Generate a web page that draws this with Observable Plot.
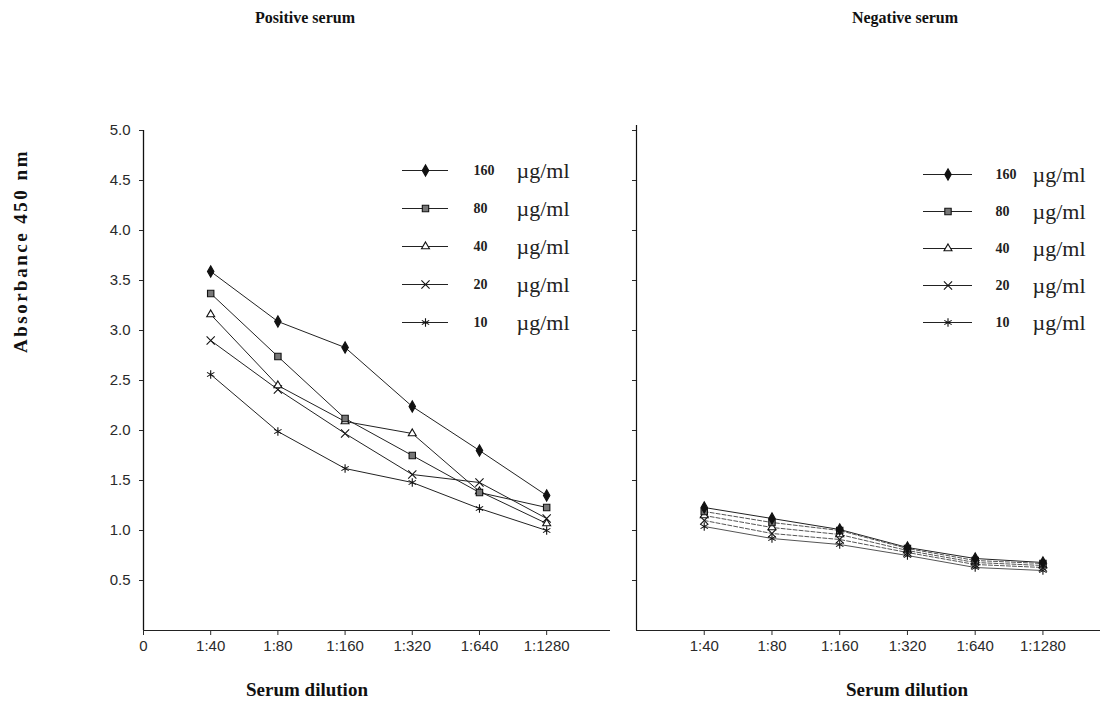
<!DOCTYPE html>
<html>
<head>
<meta charset="utf-8">
<script src="https://cdn.jsdelivr.net/npm/d3@7"></script>
<script src="https://cdn.jsdelivr.net/npm/@observablehq/plot@0.6"></script>
<style>
  html, body { margin: 0; padding: 0; background: #fff; }
  #chart { position: relative; width: 1109px; height: 709px; overflow: hidden; background: #fff; }
  .abs { position: absolute; }
  .lbl { position: absolute; font-family: "Liberation Serif", "Times New Roman", serif; font-weight: bold; color: #111; white-space: nowrap; transform: translate(-50%, -50%); }
</style>
</head>
<body>
<div id="chart"></div>
<script>
// ---- data ----
const dilutions = ["1:40", "1:80", "1:160", "1:320", "1:640", "1:1280"];
const concentrations = ["160", "80", "40", "20", "10"];
const unitLabel = "µg/ml";
const yTicks = [0.5, 1.0, 1.5, 2.0, 2.5, 3.0, 3.5, 4.0, 4.5, 5.0];

const positive160 = [3.59, 3.09, 2.83, 2.24, 1.80, 1.35];
const positive80  = [3.37, 2.74, 2.12, 1.75, 1.38, 1.23];
const positive40  = [3.16, 2.45, 2.09, 1.97, 1.39, 1.07];
const positive20  = [2.90, 2.41, 1.97, 1.56, 1.48, 1.12];
const positive10  = [2.56, 1.99, 1.62, 1.48, 1.22, 1.00];

const negative160 = [1.23, 1.12, 1.01, 0.83, 0.72, 0.68];
const negative80  = [1.19, 1.08, 1.00, 0.82, 0.70, 0.67];
const negative40  = [1.15, 1.03, 0.96, 0.80, 0.68, 0.65];
const negative20  = [1.10, 0.97, 0.91, 0.78, 0.66, 0.63];
const negative10  = [1.04, 0.92, 0.86, 0.75, 0.63, 0.60];

const titles = ["Positive serum", "Negative serum"];
const xTitle = "Serum dilution";
const yTitle = "Absorbance 450 nm";

// ---- styles ----
const symbolOf = {"160": "diamond", "80": "square", "40": "triangle2", "20": "times", "10": "asterisk"};
const fillOf = {"160": "#111", "80": "#777", "40": "white", "20": "none", "10": "none"};
const rOf = {"160": 3.4, "80": 3.6, "40": 3.8, "20": 3.8, "10": 4};

function rowsOf(arrays) {
  return concentrations.flatMap((c, k) => arrays[k].map((v, i) => ({conc: c, i: i + 1, label: dilutions[i], v})));
}
const posRows = rowsOf([positive160, positive80, positive40, positive20, positive10]);
const negRows = rowsOf([negative160, negative80, negative40, negative20, negative10]);

const chart = document.getElementById("chart");
const axisStyle = {fontFamily: "'Liberation Sans', Arial, sans-serif", fontSize: "15px", color: "#2a2a2a", background: "transparent", overflow: "visible"};

function seriesMarks(rows, negative) {
  const marks = [];
  for (const c of concentrations) {
    const d = rows.filter(r => r.conc === c);
    const dashed = negative && c !== "160" && c !== "10";
    marks.push(Plot.line(d, {x: "i", y: "v", stroke: negative && c !== "160" ? "#555" : "#222", strokeWidth: 1, strokeDasharray: dashed ? "4,2" : null}));
  }
  for (const c of [...concentrations].reverse()) {
    const d = rows.filter(r => r.conc === c);
    marks.push(Plot.dot(d, {x: "i", y: "v", symbol: symbolOf[c], r: rOf[c], fill: fillOf[c], stroke: "#111", strokeWidth: 1.1}));
  }
  return marks;
}

// left panel
const left = Plot.plot({
  width: 620, height: 709,
  marginLeft: 143, marginRight: 10, marginTop: 130, marginBottom: 79,
  style: axisStyle,
  x: {type: "linear", domain: [0, 6.95], axis: null},
  y: {domain: [0, 5], axis: null},
  marks: [
    Plot.ruleY([0], {stroke: "#222"}),
    Plot.ruleX([0], {stroke: "#111", strokeWidth: 1.3}),
    Plot.axisX({ticks: [0, 1, 2, 3, 4, 5, 6], tickFormat: i => i === 0 ? "0" : dilutions[i - 1], tickSize: 5, tickPadding: 5, label: null}),
    Plot.axisY({ticks: yTicks, tickFormat: d => d.toFixed(1), tickSize: 4, tickPadding: 9, label: null}),
    ...seriesMarks(posRows, false)
  ]
});
left.classList.add("abs");
left.style.left = "0px"; left.style.top = "0px";
chart.appendChild(left);

// right panel
const right = Plot.plot({
  width: 489, height: 709,
  marginLeft: 16, marginRight: 9, marginTop: 125, marginBottom: 79,
  style: axisStyle,
  x: {type: "linear", domain: [0, 6.85], axis: null},
  y: {domain: [0, 5.05], axis: null},
  marks: [
    Plot.ruleY([0], {stroke: "#222"}),
    Plot.ruleX([0], {stroke: "#111", strokeWidth: 1.2}),
    Plot.axisX({ticks: [1, 2, 3, 4, 5, 6], tickFormat: i => dilutions[i - 1], tickSize: 5, tickPadding: 5, label: null}),
    Plot.axisY({ticks: yTicks, tickFormat: () => "", tickSize: 4, label: null}),
    ...seriesMarks(negRows, true)
  ]
});
right.classList.add("abs");
right.style.left = "620px"; right.style.top = "0px";
chart.appendChild(right);

// legends
function legend(left, top, width, lineRange, numX, unitX, rowRange) {
  const lg = Plot.plot({
    width, height: 200, margin: 0,
    style: {background: "transparent", overflow: "visible"},
    x: {domain: [0, 1], range: lineRange, axis: null},
    y: {type: "point", domain: concentrations, range: rowRange, padding: 0, axis: null},
    marks: [
      Plot.ruleY(concentrations, {y: d => d, x1: 0, x2: 1, stroke: "#222", strokeWidth: 1}),
      ...concentrations.map(c => Plot.dot([c], {x: 0.5, y: d => d, symbol: symbolOf[c], r: rOf[c], fill: fillOf[c], stroke: "#111", strokeWidth: 1.1})),
      Plot.text(concentrations, {y: d => d, text: d => d, frameAnchor: "left", dx: numX, textAnchor: "start", fontFamily: "'Liberation Serif', serif", fontWeight: "bold", fontSize: 14, fill: "#222", style: "letter-spacing:3px"}),
      Plot.text(concentrations, {y: d => d, text: () => unitLabel, frameAnchor: "left", dx: unitX, textAnchor: "start", fontFamily: "'Liberation Serif', serif", fontSize: 22, fill: "#222"})
    ]
  });
  lg.classList.add("abs");
  lg.style.left = left + "px"; lg.style.top = top + "px";
  chart.appendChild(lg);
}
legend(395, 150, 200, [7, 53], 78, 121, [18, 173]);
legend(915, 150, 194, [8, 57], 80, 117, [22, 173]);

// titles
function label(text, x, y, size, rotate, spacing) {
  const d = document.createElement("div");
  d.className = "lbl";
  d.textContent = text;
  d.style.left = x + "px"; d.style.top = y + "px";
  d.style.fontSize = size + "px";
  if (spacing) d.style.letterSpacing = spacing + "px";
  if (rotate) d.style.transform = "translate(-50%, -50%) rotate(-90deg)";
  chart.appendChild(d);
}
label(titles[0], 305, 18, 16);
label(titles[1], 905, 18, 16);
label(xTitle, 307, 690, 19);
label(xTitle, 907, 690, 19);
label(yTitle, 21, 251, 19, true, 2.5);
</script>
</body>
</html>
